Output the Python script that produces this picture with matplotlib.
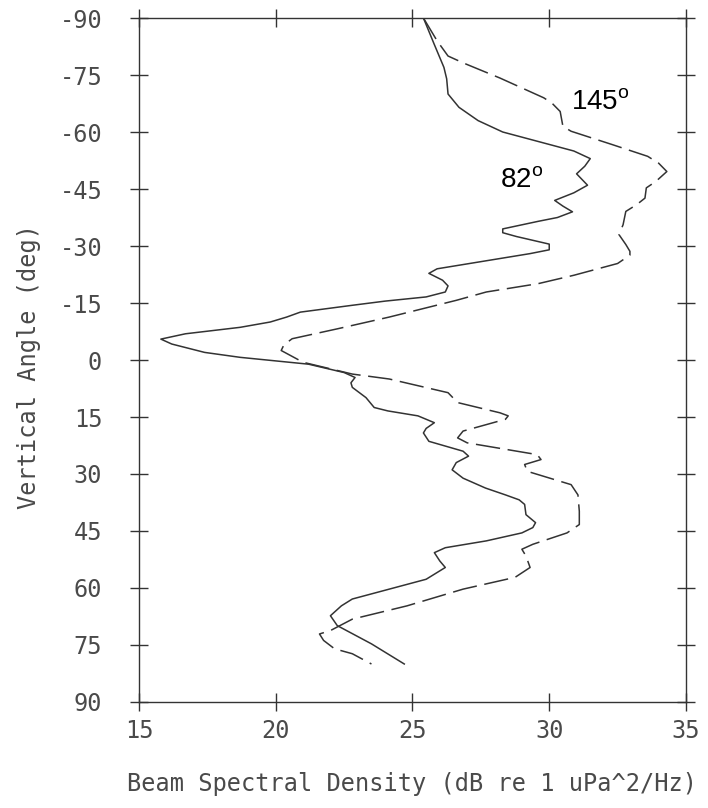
import matplotlib
matplotlib.use('Agg')
import matplotlib.pyplot as plt
import numpy as np

# 82 deg curve (solid)
ang82 = [-90, -83, -77, -74, -70, -66.5, -63, -60, -57.5, -55, -53, -51, -49, -47.5, -46,
         -44, -42, -40.5, -39, -37.5, -36.5, -34.5, -33.5, -32.5, -30.5, -29, -28, -24,
         -22.8, -21, -19.5, -17.9, -16.6, -15.5, -14.4, -12.6, -11.3, -10, -8.6, -6.9,
         -5.5, -4.2, -2, -0.7, 1.1, 3.3, 4.6, 6, 7.2, 9.9, 12.5, 13.4, 14.7, 16.5, 18,
         19.2, 21.4, 24, 25.3, 27, 28.9, 31.1, 33.7, 35.5, 36.8, 38, 40.7, 42.8, 44.1,
         45.5, 47.6, 49.4, 50.7, 52.9, 54.6, 57.7, 60.3, 62.9, 64.7, 67.3, 69.9, 74.7, 80]
db82 = [25.4, 25.8, 26.15, 26.25, 26.3, 26.7, 27.4, 28.3, 29.6, 30.9, 31.5, 31.3, 31.0,
        31.2, 31.4, 30.9, 30.2, 30.5, 30.85, 30.3, 29.6, 28.3, 28.3, 28.8, 30.0, 30.0,
        29.3, 25.9, 25.6, 26.1, 26.3, 26.2, 25.5, 24.0, 22.8, 20.9, 20.4, 19.8, 18.7,
        16.7, 15.8, 16.2, 17.4, 18.7, 21.2, 22.5, 22.9, 22.75, 22.8, 23.3, 23.6, 24.1,
        25.2, 25.8, 25.5, 25.4, 25.6, 26.85, 27.05, 26.6, 26.45, 26.85, 27.67, 28.4,
        28.9, 29.1, 29.15, 29.5, 29.4, 29.0, 27.7, 26.2, 25.8, 26.0, 26.2, 25.5, 24.15,
        22.8, 22.4, 22.0, 22.25, 23.5, 24.7]

# 145 deg curve (dashed)
ang145 = [-90, -84, -80, -78.2, -74.2, -69, -67.6, -65.4, -61.5, -60.2, -56.7, -53.6,
          -51.8, -49.6, -47, -45.3, -42.6, -40.9, -39.1, -35.6, -33, -30.4, -28.6, -27.6,
          -25.4, -22.3, -20.1, -17.9, -15.7, -11.3, -8.2, -5.6, -4, -2.5, 0.6, 3.7, 5.0,
          8.6, 11.2, 13.9, 14.7, 15.6, 18.7, 20.5, 21.8, 24.9, 26.2, 27.5, 29.3, 32.8,
          35.5, 39.8, 43.3, 45.5, 48.5, 49.8, 51.6, 54.6, 57.2, 60.3, 64.7, 68.2, 71.2,
          72.1, 73.8, 76, 77.3, 80]
db145 = [25.4, 25.9, 26.3, 26.85, 28.2, 29.8, 30.1, 30.4, 30.5, 30.8, 32.3, 33.6, 34.0,
         34.3, 33.9, 33.55, 33.5, 33.2, 32.8, 32.7, 32.55, 32.8, 32.95, 32.95, 32.5,
         30.9, 29.6, 27.7, 26.6, 24.15, 22.25, 20.6, 20.3, 20.2, 21.0, 22.8, 24.15, 26.3,
         26.65, 28.2, 28.5, 28.4, 26.85, 26.65, 27.0, 29.56, 29.7, 29.1, 29.2, 30.8,
         31.05, 31.1, 31.1, 30.65, 29.4, 29.0, 29.15, 29.3, 28.75, 26.85, 24.8, 22.8,
         22.0, 21.6, 21.75, 22.15, 22.8, 23.5]

xticks = [15, 20, 25, 30, 35]
yticks = list(range(-90, 91, 15))

plt.rcParams['axes.unicode_minus'] = False
plt.rcParams['mathtext.fontset'] = 'custom'
plt.rcParams['mathtext.rm'] = 'Liberation Sans'

txtcol = '#4a4a4a'
mono = 'DejaVu Sans Mono'

fig = plt.figure(figsize=(7.08, 8.08), dpi=100)
ax = fig.add_axes([0.1963, 0.1312, 0.7726, 0.8465])

ax.plot(db82, ang82, color='#333333', lw=1.1)
ax.plot(db145, ang145, color='#333333', lw=1.1, dashes=(16, 5))

ax.set_xlim(15, 35)
ax.set_ylim(90, -90)
ax.set_xticks(xticks)
ax.set_yticks(yticks)

for s in ax.spines.values():
    s.set_color('#333333')
    s.set_linewidth(1.0)

ax.tick_params(direction='inout', length=13, width=1.0, color='#333333',
               top=True, right=True, labelcolor=txtcol, labelsize=17)
ax.tick_params(axis='x', pad=6)
ax.tick_params(axis='y', pad=20)
for lab in ax.get_xticklabels() + ax.get_yticklabels():
    lab.set_family(mono)

ax.set_xlabel('Beam Spectral Density (dB re 1 uPa^2/Hz)', family=mono,
              fontsize=17, color=txtcol)
ax.xaxis.set_label_coords(0.5, -0.12)
ax.xaxis.label.set_verticalalignment('center')
ax.set_ylabel('Vertical Angle (deg)', family=mono, fontsize=17, color=txtcol)
ax.yaxis.set_label_coords(-0.201, 0.49)
ax.yaxis.label.set_verticalalignment('center')

ax.text(30.8, -67.6, r'145$^{\mathrm{o}}$', family='Liberation Sans', fontsize=20,
        ha='left', va='center', color='black')
ax.text(28.2, -47.1, r'82$^{\mathrm{o}}$', family='Liberation Sans', fontsize=20,
        ha='left', va='center', color='black')

fig.savefig('out.png', dpi=100)
